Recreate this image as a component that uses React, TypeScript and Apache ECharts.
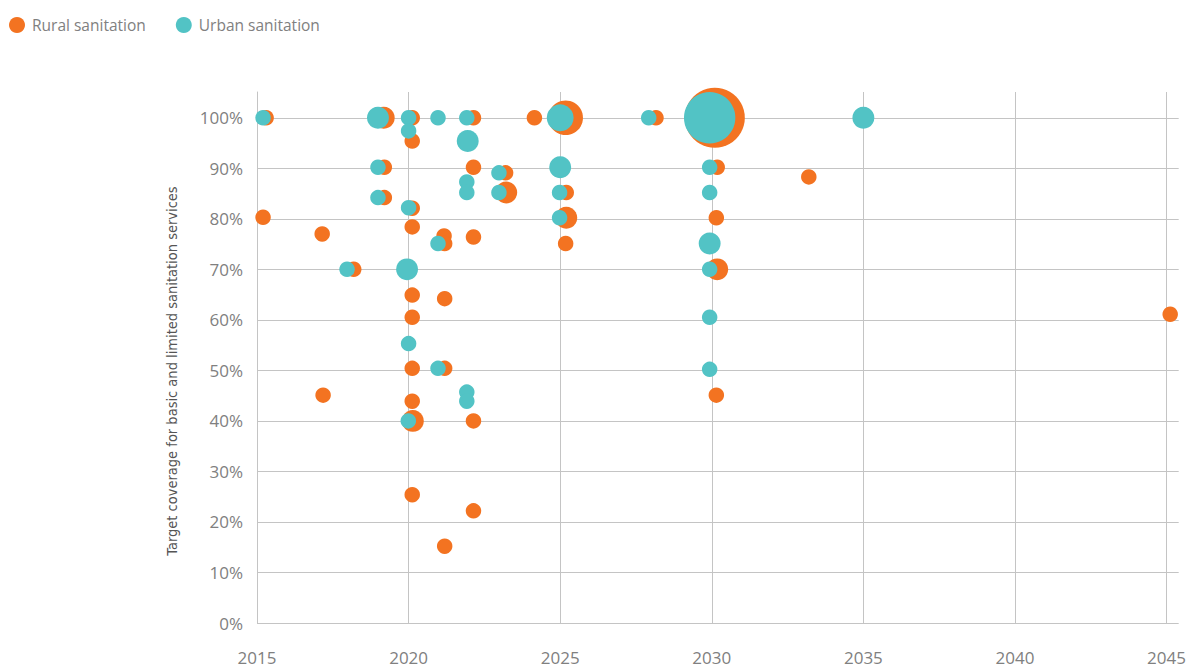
import React, { useEffect, useRef } from "react";
import * as echarts from "echarts";

// [year, target coverage %, number of countries]
const ruralData: number[][] = [
  [2015.3, 100, 1], [2015.2, 80.3, 1], [2017.15, 77, 1], [2017.18, 45.1, 1],
  [2018.19, 70, 1], [2019.18, 100, 2], [2019.2, 90.2, 1], [2019.2, 84.2, 1],
  [2020.12, 100, 1], [2020.12, 95.4, 1], [2020.12, 82.1, 1], [2020.12, 78.4, 1],
  [2020.12, 64.9, 1], [2020.12, 60.5, 1], [2020.12, 50.4, 1], [2020.12, 43.9, 1],
  [2020.14, 40, 2], [2020.12, 25.4, 1], [2021.17, 76.6, 1], [2021.19, 75.1, 1],
  [2021.19, 64.2, 1], [2021.19, 50.4, 1], [2021.19, 15.2, 1], [2022.14, 100, 1],
  [2022.14, 90.2, 1], [2022.14, 76.4, 1], [2022.14, 40, 1], [2022.14, 22.2, 1],
  [2023.2, 89.1, 1], [2023.22, 85.2, 2], [2024.15, 100, 1], [2025.18, 100, 5],
  [2025.2, 85.2, 1], [2025.2, 80.2, 2], [2025.18, 75.1, 1], [2028.16, 100, 1],
  [2030.1, 100, 15], [2030.18, 90.2, 1], [2030.15, 80.2, 1], [2030.18, 70, 2],
  [2030.15, 45.1, 1], [2033.2, 88.3, 1], [2045.12, 61.1, 1],
];

const urbanData: number[][] = [
  [2015.2, 100, 1], [2017.97, 70, 1], [2018.99, 100, 2], [2018.99, 90.2, 1],
  [2018.99, 84.2, 1], [2020.0, 100, 1], [2020.0, 97.4, 1], [2020.0, 82.2, 1],
  [2019.95, 70, 2], [2020.0, 55.3, 1], [2019.99, 40, 1], [2020.97, 100, 1],
  [2020.97, 75.1, 1], [2020.97, 50.4, 1], [2021.92, 100, 1], [2021.95, 95.4, 2],
  [2021.92, 87.3, 1], [2021.92, 85.2, 1], [2021.92, 45.7, 1], [2021.92, 43.9, 1],
  [2022.98, 89.1, 1], [2022.98, 85.2, 1], [2025.0, 100, 3], [2025.0, 90.2, 2],
  [2024.98, 85.2, 1], [2024.98, 80.2, 1], [2027.92, 100, 1], [2029.93, 100, 11],
  [2029.93, 90.2, 1], [2029.93, 85.2, 1], [2029.93, 75.1, 2], [2029.93, 70, 1],
  [2029.93, 60.5, 1], [2029.93, 50.2, 1], [2035.0, 100, 2],
];

const seriesNames = ["Rural sanitation", "Urban sanitation"];
const yAxisTitle = "Target coverage for basic and limited sanitation services";

const ORANGE = "#F37321";
const TEAL = "#52C3C5";
const GRID = "#c4c4c4";
const LABEL = "#808080";
const FONT = "'Open Sans', 'Noto Sans', sans-serif";

const bubble = (d: number[]) => 15.5 * Math.sqrt(d[2]);

export default function App() {
  const ref = useRef<HTMLDivElement>(null);
  useEffect(() => {
    if (!ref.current) return;
    const chart = echarts.init(ref.current, null, { renderer: "svg" });
    chart.setOption({
      animation: false,
      legend: {
        left: 4,
        top: 12,
        itemWidth: 16,
        itemHeight: 16,
        itemGap: 30,
        icon: "circle",
        textStyle: { color: LABEL, fontSize: 15.5, fontFamily: FONT, padding: [0, 0, 0, 2] },
        data: seriesNames,
      },
      graphic: [
        {
          type: "text",
          x: 172,
          y: 371,
          rotation: Math.PI / 2,
          style: {
            text: yAxisTitle,
            fill: "#555",
            fontSize: 14.5,
            fontFamily: "'Liberation Sans Narrow', 'DejaVu Sans Condensed', sans-serif",
            textAlign: "center",
            textVerticalAlign: "middle",
          },
        },
      ],
      grid: { left: 257, right: 9, top: 92, bottom: 48 },
      xAxis: {
        type: "value",
        min: 2015,
        max: 2045.4,
        interval: 5,
        axisLine: { show: false },
        axisTick: { show: false },
        axisLabel: {
          color: LABEL,
          fontSize: 17,
          fontFamily: FONT,
          margin: 26,
          formatter: (v: number) => (Math.abs(v % 5) < 1e-6 ? String(v) : ""),
        },
        splitLine: { show: true, showMaxLine: false, lineStyle: { color: GRID, width: 1 } },
      },
      yAxis: {
        type: "value",
        min: 0,
        max: 105.1,
        interval: 10,
        axisLine: { show: true, lineStyle: { color: GRID } },
        axisTick: { show: false },
        axisLabel: {
          color: LABEL,
          fontSize: 17,
          fontFamily: FONT,
          margin: 14,
          formatter: (v: number) => (v <= 100 ? v + "%" : ""),
        },
        splitLine: { show: true, showMaxLine: false, lineStyle: { color: GRID, width: 1 } },
      },
      series: [
        {
          name: seriesNames[0],
          type: "scatter",
          data: ruralData,
          symbolSize: bubble,
          itemStyle: { color: ORANGE, opacity: 1 },
        },
        {
          name: seriesNames[1],
          type: "scatter",
          data: urbanData,
          symbolSize: bubble,
          itemStyle: { color: TEAL, opacity: 1 },
        },
      ],
    });
    return () => chart.dispose();
  }, []);
  return <div ref={ref} style={{ width: 1189, height: 671, position: "absolute", left: 0, top: 0 }} />;
}
